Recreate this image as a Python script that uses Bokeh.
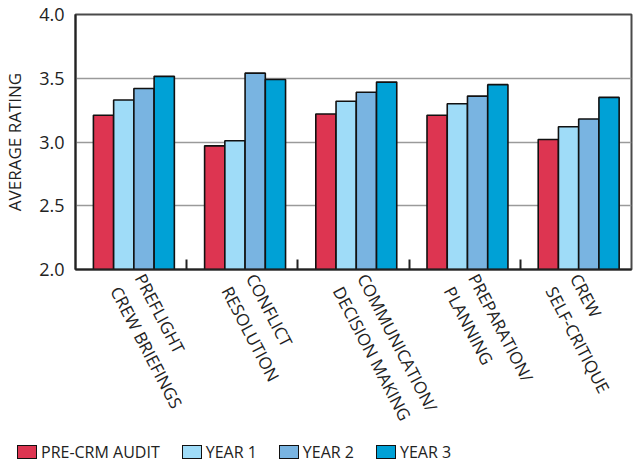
import math
from bokeh.plotting import figure
from bokeh.layouts import column
from bokeh.models import Range1d, FixedTicker, NumeralTickFormatter, Div
from bokeh.embed import file_html
from bokeh.resources import INLINE

categories = ["PREFLIGHT\nCREW BRIEFINGS", "CONFLICT\nRESOLUTION",
              "COMMUNICATION/\nDECISION MAKING", "PREPARATION/\nPLANNING",
              "CREW\nSELF-CRITIQUE"]
series_names = ["PRE-CRM AUDIT", "YEAR 1", "YEAR 2", "YEAR 3"]
pre_crm = [3.21, 2.97, 3.22, 3.21, 3.02]
year_1 = [3.33, 3.01, 3.32, 3.30, 3.12]
year_2 = [3.42, 3.54, 3.39, 3.36, 3.18]
year_3 = [3.515, 3.49, 3.47, 3.45, 3.35]
y_ticks = [2.0, 2.5, 3.0, 3.5, 4.0]
colors = ["#DD3551", "#9FDCF8", "#79B4E1", "#00A1D6"]

TEXT_FONT = "Open Sans"
NUM_FONT = "Open Sans"
OUTLINE = "#111111"

p = figure(frame_width=556, frame_height=255,
           x_range=Range1d(0, 5), y_range=Range1d(2.0, 4.0),
           output_backend="svg", toolbar_location=None,
           min_border_left=74, min_border_top=14, min_border_right=8,
           min_border_bottom=170, background_fill_color="white",
           border_fill_color="white")

n = len(categories)
bar_w = 0.182
for i, (vals, col) in enumerate(zip([pre_crm, year_1, year_2, year_3], colors)):
    xs = [k + 0.525 + (i - 1.5) * bar_w for k in range(n)]
    p.vbar(x=xs, top=vals, bottom=2.0, width=bar_w, fill_color=col,
           line_color=OUTLINE, line_width=1.6)

# frame
p.outline_line_color = "#4a4a4a"
p.outline_line_width = 2

# grid
p.xgrid.visible = False
p.ygrid.ticker = FixedTicker(ticks=y_ticks)
p.ygrid.grid_line_color = "#9a9a9a"
p.ygrid.grid_line_width = 1.5

# y axis
p.yaxis.ticker = FixedTicker(ticks=y_ticks)
p.yaxis.formatter = NumeralTickFormatter(format="0.0")
p.yaxis.major_tick_line_color = None
p.yaxis.minor_tick_line_color = None
p.yaxis.axis_line_color = "#222222"
p.yaxis.axis_line_width = 2
p.yaxis.major_label_text_font = NUM_FONT
p.yaxis.major_label_text_font_size = "18px"
p.yaxis.major_label_text_color = "#222222"
p.yaxis.major_label_standoff = 5
p.yaxis.axis_label = "AVERAGE RATING"
p.yaxis.axis_label_text_font = TEXT_FONT
p.yaxis.axis_label_text_font_size = "17px"
p.yaxis.axis_label_text_font_style = "normal"
p.yaxis.axis_label_text_color = "#222222"
p.yaxis.axis_label_standoff = 10

# x axis
centers = [k + 0.47 for k in range(n)]
p.xaxis.ticker = FixedTicker(ticks=centers, minor_ticks=[1, 2, 3, 4])
p.xaxis.major_label_overrides = {c: lab for c, lab in zip(centers, categories)}
p.xaxis.major_label_orientation = -math.radians(62.5)
p.xaxis.major_tick_line_color = None
p.xaxis.minor_tick_in = 10
p.xaxis.minor_tick_out = 0
p.xaxis.minor_tick_line_color = "#222222"
p.xaxis.minor_tick_line_width = 2
p.xaxis.axis_line_color = "#222222"
p.xaxis.axis_line_width = 2
p.xaxis.major_label_text_font = TEXT_FONT
p.xaxis.major_label_text_font_size = "17px"
p.xaxis.major_label_text_color = "#222222"
p.xaxis.major_label_standoff = 6

# legend row below the chart
parts = []
for k, (nm, col) in enumerate(zip(series_names, colors)):
    lead = 17 if k == 0 else 22
    parts.append(
        f'<span style="display:inline-block;width:20px;height:14px;'
        f'background:{col};border:1.5px solid {OUTLINE};box-sizing:border-box;'
        f'vertical-align:-1px;margin-left:{lead}px;margin-right:4px;"></span>'
        f'<span>{nm}</span>')
legend_html = ('<div style="font-family:\'Open Sans\';font-size:16px;color:#222222;'
               'white-space:nowrap;line-height:20px;margin:0;padding:0;">'
               + "".join(parts) + '</div>')
legend_div = Div(text=legend_html, width=638, height=22,
                 styles={"margin": "0", "padding": "0"})

open("out.html", "w").write(file_html(column(p, legend_div, spacing=0), INLINE))
